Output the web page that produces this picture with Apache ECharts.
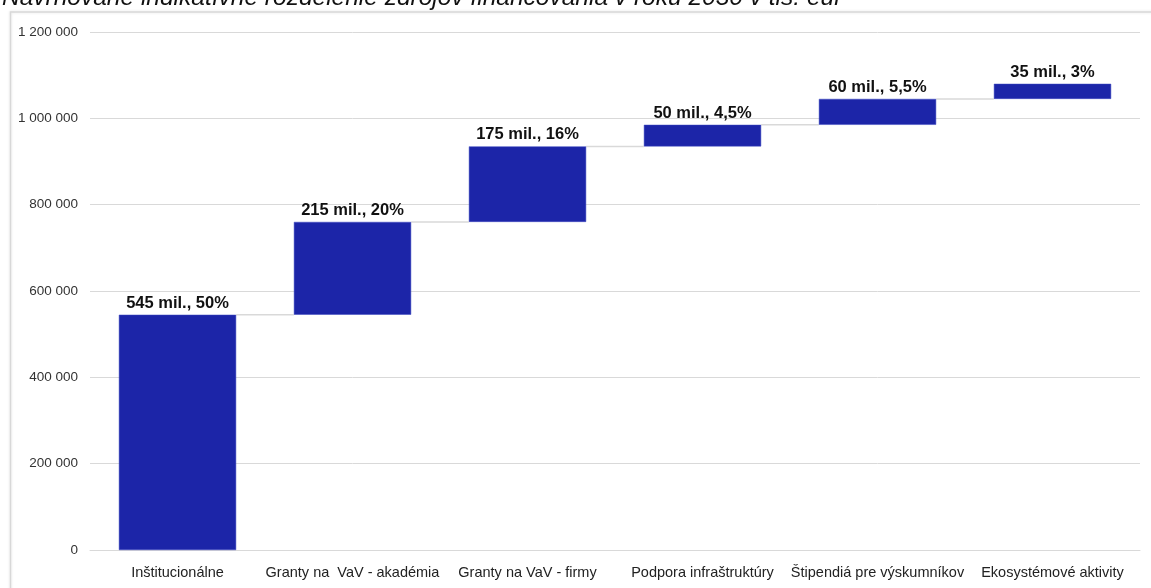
<!DOCTYPE html>
<html lang="sk">
<head>
    <meta charset="UTF-8">
    <title>Rozdelenie zdrojov</title>
    <script src="https://cdn.jsdelivr.net/npm/echarts@6/dist/echarts.min.js"></script>
    <style>
        html, body { margin: 0; padding: 0; background: #fff; }
        #chart_main { width: 1151px; height: 588px; }
    </style>
</head>
<body>
<div id="chart_main"></div>
<script>
  // kategórie a hodnoty (tis. eur)
  var categories = ['Inštitucionálne', 'Granty na  VaV - akadémia', 'Granty na VaV - firmy',
    'Podpora infraštruktúry', 'Štipendiá pre výskumníkov', 'Ekosystémové aktivity'];
  var values = [545000, 215000, 175000, 50000, 60000, 35000];
  var barLabels = ['545 mil., 50%', '215 mil., 20%', '175 mil., 16%', '50 mil., 4,5%', '60 mil., 5,5%', '35 mil., 3%'];
  var yTicks = { min: 0, max: 1200000, interval: 200000 };

  // spodok každého stĺpca = súčet predchádzajúcich
  var bases = [];
  var sum = 0;
  for (var i = 0; i < values.length; i++) {
    bases.push(sum);
    sum += values[i];
  }

  var gridColor = '#d9d9d9';
  var myChart = echarts.init(document.getElementById('chart_main'));
  var option = {
    animation: false,
    title: {
      text: 'Navrhované indikatívne rozdelenie zdrojov financovania v roku 2030 v tis. eur',
      left: -3,
      top: -19,
      textStyle: { fontFamily: 'Liberation Sans', fontStyle: 'italic', fontWeight: 'normal', fontSize: 24.5, color: '#111' }
    },
    graphic: [{
      type: 'rect',
      shape: { x: 10.5, y: 12, width: 1160, height: 600 },
      style: { fill: 'none', stroke: '#d8d8d8', lineWidth: 1.5, shadowBlur: 3, shadowColor: 'rgba(0,0,0,0.12)' },
      z: -10
    }],
    grid: { left: 90, right: 11, top: 32, bottom: 38 },
    xAxis: {
      type: 'category',
      data: categories,
      axisTick: { show: false },
      axisLine: { lineStyle: { color: gridColor, width: 1 } },
      axisLabel: { color: '#222', fontFamily: 'Liberation Sans', fontSize: 14.5, margin: 15, interval: 0 }
    },
    yAxis: {
      type: 'value',
      min: yTicks.min,
      max: yTicks.max,
      interval: yTicks.interval,
      axisLine: { show: false },
      axisTick: { show: false },
      splitLine: { lineStyle: { color: gridColor, width: 1 } },
      axisLabel: {
        color: '#333', fontFamily: 'Liberation Sans', fontSize: 13.5, margin: 12,
        formatter: function(v) { return String(v).replace(/\B(?=(\d{3})+(?!\d))/g, ' '); }
      }
    },
    series: [
      {
        type: 'bar',
        stack: 'w',
        barWidth: '67%',
        itemStyle: { color: 'transparent' },
        silent: true,
        data: bases
      },
      {
        type: 'bar',
        stack: 'w',
        barWidth: '67%',
        itemStyle: { color: '#1c25a8', borderColor: '#3b46c0', borderWidth: 0.5 },
        label: {
          show: true,
          position: 'top',
          distance: 3,
          color: '#111',
          fontFamily: 'Liberation Sans',
          fontWeight: 'bold',
          fontSize: 16.5,
          formatter: function(p) { return barLabels[p.dataIndex]; }
        },
        data: values
      },
      {
        // spojovacie čiary medzi stĺpcami
        type: 'custom',
        silent: true,
        z: 1,
        data: bases.slice(1).map(function(b, k) { return [k, b]; }),
        renderItem: function(params, api) {
          var idx = api.value(0);
          var level = api.value(1);
          var bw = api.size([1, 0])[0] * 0.67;
          var p1 = api.coord([idx, level]);
          var p2 = api.coord([idx + 1, level]);
          return {
            type: 'line',
            shape: { x1: p1[0] + bw / 2, y1: p1[1], x2: p2[0] - bw / 2, y2: p2[1] },
            style: { stroke: gridColor, lineWidth: 1.5 }
          };
        }
      }
    ]
  };
  myChart.setOption(option);
</script>
</body>
</html>
